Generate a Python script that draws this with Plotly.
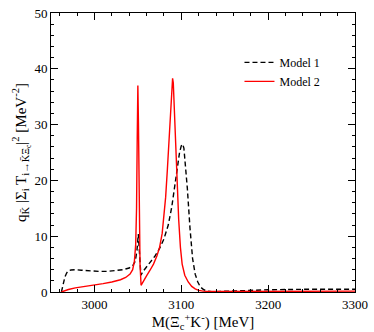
import plotly.graph_objs as go

# Model 1 (black dashed)
m1_x = [2962, 2964, 2966, 2968, 2970, 2973, 2978, 2985, 2995, 3005, 3015, 3025, 3033, 3040, 3044,
        3047, 3049, 3050.5, 3052, 3053.5, 3056, 3060, 3065, 3070, 3075, 3080, 3085, 3089, 3092,
        3095, 3098, 3100, 3101.5, 3103, 3105, 3107, 3110, 3113, 3116, 3119, 3122, 3126, 3130,
        3135, 3145, 3160, 3180, 3200, 3250, 3300]
m1_y = [0, 1.5, 2.7, 3.4, 3.8, 3.95, 4.0, 3.9, 3.75, 3.7, 3.7, 3.8, 4.0, 4.3, 4.7,
        5.5, 7.5, 10.4, 6.0, 3.0, 3.7, 4.6, 5.5, 6.5, 7.8, 9.5, 12.0, 15.2, 18.5,
        22.0, 25.0, 26.2, 26.5, 25.8, 22.5, 18.5, 11.5, 6.0, 3.2, 1.8, 0.9, 0.4, 0.15,
        0.05, 0.1, 0.2, 0.3, 0.4, 0.5, 0.5]

# Model 2 (red solid)
m2_x = [2962, 2965, 2970, 2978, 2990, 3000, 3010, 3020, 3030, 3036, 3041, 3044, 3046, 3047.5,
        3048.5, 3049.3, 3050, 3050.7, 3051.5, 3052.5, 3053.7, 3056, 3060, 3064, 3068, 3072,
        3075, 3078, 3080, 3082, 3084, 3086, 3088, 3089.3, 3090, 3090.8, 3092, 3093.5, 3095,
        3097, 3099, 3101, 3104, 3108, 3112, 3116, 3120, 3125, 3135, 3150, 3200, 3250, 3300]
m2_y = [0, 0.2, 0.45, 0.75, 1.0, 1.25, 1.5, 1.8, 2.2, 2.6, 3.2, 4.0, 5.5, 8.5,
        15, 28, 37, 30, 15, 5, 1.2, 1.9, 2.9, 3.9, 5.0, 6.5,
        8.0, 10.5, 13.5, 17, 22, 28, 34, 37.5, 38.3, 37.5, 33, 26, 19,
        13, 8, 5, 3, 1.8, 1.0, 0.55, 0.3, 0.15, 0.08, 0.08, 0.1, 0.12, 0.15]

FONT = "Liberation Serif"

gos = []
gos.append(go.Scatter(
    x=m1_x, y=m1_y, mode='lines', name='Model 1',
    line=dict(color='black', width=1.4, dash='5px,3px'),
))
gos.append(go.Scatter(
    x=m2_x, y=m2_y, mode='lines', name='Model 2',
    line=dict(color='#ff0000', width=1.4),
))

axis_common = dict(
    showgrid=False,
    zeroline=False,
    showline=True,
    linecolor='black',
    linewidth=1,
    mirror='ticks',
    ticks='inside',
    ticklen=7,
    tickcolor='black',
    ticklabeloverflow='allow',
    tickfont=dict(family=FONT, size=13, color='black'),
)

layout = dict(
    width=374,
    height=332,
    plot_bgcolor='white',
    paper_bgcolor='white',
    font=dict(family=FONT, size=13, color='black'),
    margin=dict(l=51, r=15, t=6, b=40),
    xaxis=dict(
        range=[2950, 3300],
        dtick=100,
        tick0=3000,
        minor=dict(dtick=20, ticks='inside', ticklen=3, tickcolor='black'),
        title=dict(text="M(Ξ<sub>c</sub><sup>+</sup>K<sup>-</sup>) [MeV]",
                   font=dict(family=FONT, size=15), standoff=2),
        **axis_common
    ),
    yaxis=dict(
        range=[0, 50],
        dtick=10,
        minor=dict(dtick=2, ticks='inside', ticklen=3, tickcolor='black'),
        title=dict(text="q<sub>K̄</sub> |Σ<sub>i</sub> T<sub>i→K̄Ξ<sub>c</sub></sub>|<sup>2</sup> [MeV<sup>-2</sup>]",
                   font=dict(family=FONT, size=15), standoff=4),
        **axis_common
    ),
    showlegend=True,
    legend=dict(
        x=0.62, y=0.875, xanchor='left', yanchor='top',
        bgcolor='rgba(0,0,0,0)',
        font=dict(family=FONT, size=12),
        itemwidth=30,
        tracegroupgap=0,
    ),
)

fig = go.Figure(data=gos, layout=layout)
fig.write_html("out.html", config=dict(displayModeBar=False),
               post_script="document.body.style.margin='0';")
